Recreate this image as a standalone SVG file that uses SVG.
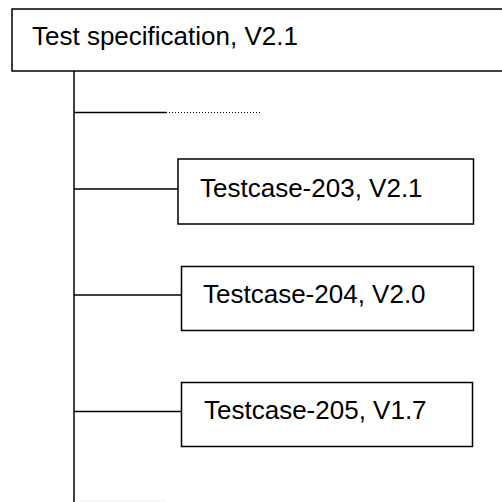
<svg xmlns="http://www.w3.org/2000/svg" width="502" height="502" viewBox="0 0 502 502">
<style>
.box{fill:#fff;stroke:#000;stroke-width:1.5}
.lbl{font-family:"Liberation Sans",Arial,sans-serif;font-size:26px;fill:#000}
.ln{stroke:#000;stroke-width:1.5;fill:none}
.dot{stroke:#000;stroke-width:1;stroke-dasharray:1 2;fill:none}
</style>
<rect width="502" height="502" fill="#fff"/>
<g id="connectors">
<line class="ln" x1="74" y1="71" x2="74" y2="502"/>
<line class="ln" x1="74" y1="112.5" x2="166" y2="112.5"/>
<line class="dot" x1="166" y1="112.5" x2="260" y2="112.5"/>
<line class="ln" x1="74" y1="189" x2="178" y2="189"/>
<line class="ln" x1="74" y1="295" x2="181.5" y2="295"/>
<line class="ln" x1="74" y1="411.5" x2="181.5" y2="411.5"/>
<line x1="76" y1="501" x2="165" y2="501" stroke="#eee" stroke-width="1"/>
</g>
<g id="spec">
<rect class="box" x="12" y="9" width="520" height="62"/>
<text class="lbl" x="32" y="45">Test specification, V2.1</text>
</g>
<g id="tc203">
<rect class="box" x="178" y="159" width="295.5" height="65"/>
<text class="lbl" x="200" y="197">Testcase-203, V2.1</text>
</g>
<g id="tc204">
<rect class="box" x="181.5" y="266.5" width="292" height="64"/>
<text class="lbl" x="203" y="303">Testcase-204, V2.0</text>
</g>
<g id="tc205">
<rect class="box" x="181.5" y="382.5" width="291" height="64"/>
<text class="lbl" x="204" y="419">Testcase-205, V1.7</text>
</g>
</svg>
